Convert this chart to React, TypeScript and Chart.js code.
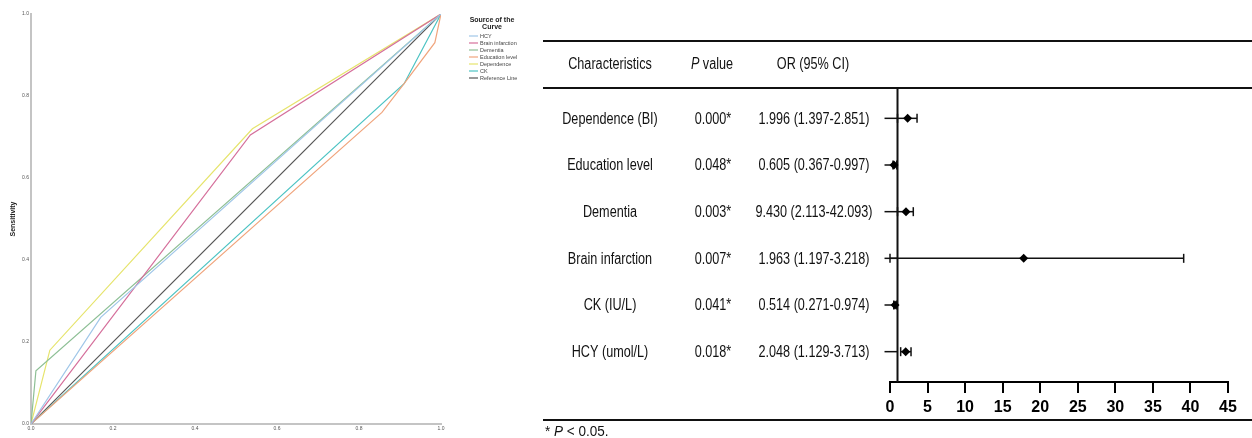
import React, { useEffect, useRef } from 'react';
import { Chart, registerables } from 'chart.js';

Chart.register(...registerables);

// ---------- ROC panel data ----------
const rocSeries = ['HCY', 'Brain infarction', 'Dementia', 'Education level', 'Dependence', 'CK', 'Reference Line'];
const rocColors = ['#9fc6e8', '#d56f9b', '#8dbf95', '#f0a47c', '#e6e46c', '#4cc3c3', '#555555'];
const hcyFpr = [0, 0.17, 1];
const hcyTpr = [0, 0.26, 1];
const brainFpr = [0, 0.535, 1];
const brainTpr = [0, 0.705, 1];
const dementiaFpr = [0, 0.012, 1];
const dementiaTpr = [0, 0.13, 1];
const educationFpr = [0, 0.856, 0.91, 0.985, 1];
const educationTpr = [0, 0.76, 0.83, 0.93, 1];
const dependenceFpr = [0, 0.046, 0.54, 1];
const dependenceTpr = [0, 0.18, 0.72, 1];
const ckFpr = [0, 0.91, 1];
const ckTpr = [0, 0.83, 1];
const refFpr = [0, 1];
const refTpr = [0, 1];
const rocTicks = [0, 0.2, 0.4, 0.6, 0.8, 1.0];
const rocLegendTitle = ['Source of the', 'Curve'];

// ---------- Forest panel data ----------
const characteristics = ['Dependence (BI)', 'Education level', 'Dementia', 'Brain infarction', 'CK (IU/L)', 'HCY (umol/L)'];
const pValues = ['0.000*', '0.048*', '0.003*', '0.007*', '0.041*', '0.018*'];
const orCi = ['1.996 (1.397-2.851)', '0.605 (0.367-0.997)', '9.430 (2.113-42.093)', '1.963 (1.197-3.218)', '0.514 (0.271-0.974)', '2.048 (1.129-3.713)'];
const plotOR = [2.35, 0.53, 2.13, 17.8, 0.67, 2.09];
const plotLow = [1.0, 0.4, 1.0, 0.0, 0.5, 1.42];
const plotHigh = [3.6, 0.9, 3.1, 39.1, 0.9, 2.8];
const forestTicks = [0, 5, 10, 15, 20, 25, 30, 35, 40, 45];
const axisCross = 1;
const headers = ['Characteristics', 'P value', 'OR (95% CI)'];
const footnote = '* P < 0.05.';

type Run = { text: string; italic?: boolean };

function drawRuns(ctx: CanvasRenderingContext2D, runs: Run[], x: number, y: number, align: 'left' | 'center', size: number, sx: number) {
  const fontFor = (r: Run) => `${r.italic ? 'italic ' : ''}${size}px Arial, "Liberation Sans", sans-serif`;
  let total = 0;
  const widths = runs.map((r) => {
    ctx.font = fontFor(r);
    const w = ctx.measureText(r.text).width * sx;
    total += w;
    return w;
  });
  let cx = align === 'center' ? x - total / 2 : x;
  ctx.textBaseline = 'middle';
  ctx.textAlign = 'left';
  runs.forEach((r, i) => {
    ctx.font = fontFor(r);
    ctx.save();
    ctx.translate(cx, y);
    ctx.scale(sx, 1);
    ctx.fillText(r.text, 0, 0);
    ctx.restore();
    cx += widths[i];
  });
}

function splitP(t: string): Run[] {
  const idx = t.indexOf('P');
  if (idx < 0) return [{ text: t }];
  return [{ text: t.slice(0, idx) }, { text: 'P', italic: true }, { text: t.slice(idx + 1) }].filter((r) => r.text.length > 0);
}

const rocLegendPlugin = {
  id: 'rocLegend',
  afterDraw(chart: any) {
    const { ctx } = chart;
    ctx.save();
    ctx.fillStyle = '#222';
    ctx.textAlign = 'center';
    ctx.textBaseline = 'middle';
    ctx.font = 'bold 7px Arial, "Liberation Sans", sans-serif';
    rocLegendTitle.forEach((t, i) => ctx.fillText(t, 492, 20 + i * 7.5));
    ctx.font = '5.5px Arial, "Liberation Sans", sans-serif';
    ctx.textAlign = 'left';
    chart.data.datasets.forEach((ds: any, i: number) => {
      const yy = 36 + i * 7;
      ctx.strokeStyle = ds.borderColor;
      ctx.lineWidth = 1.2;
      ctx.beginPath();
      ctx.moveTo(469, yy);
      ctx.lineTo(478, yy);
      ctx.stroke();
      ctx.fillStyle = '#444';
      ctx.fillText(ds.label, 480, yy);
    });
    ctx.restore();
  },
};

const forestPlugin = {
  id: 'forestTable',
  beforeDatasetsDraw(chart: any) {
    const { ctx, chartArea, scales } = chart;
    const x = scales.x;
    const y = scales.y;
    const line = (x1: number, y1: number, x2: number, y2: number) => {
      ctx.beginPath();
      ctx.moveTo(x1, y1);
      ctx.lineTo(x2, y2);
      ctx.stroke();
    };
    ctx.save();
    ctx.strokeStyle = '#111';
    ctx.lineWidth = 2;
    [41, chartArea.top, 420].forEach((yy) => line(3, yy, chart.width, yy));
    const ax = x.getPixelForValue(axisCross);
    line(ax, chartArea.top, ax, chartArea.bottom);
    ctx.lineWidth = 1.5;
    plotOR.forEach((_, i) => {
      const yy = y.getPixelForValue(i);
      line(ax - 13, yy, ax, yy);
      const lo = x.getPixelForValue(plotLow[i]);
      const hi = x.getPixelForValue(plotHigh[i]);
      line(lo, yy, hi, yy);
      line(lo, yy - 4.5, lo, yy + 4.5);
      line(hi, yy - 4.5, hi, yy + 4.5);
    });
    // table text
    ctx.fillStyle = '#111';
    const colX = [70, 172, 273];
    const sx = 0.79;
    headers.forEach((h, c) => drawRuns(ctx, c === 1 ? splitP(h) : [{ text: h }], colX[c], 65, 'center', 16, sx));
    characteristics.forEach((name, i) => {
      const yy = y.getPixelForValue(i) + 1;
      drawRuns(ctx, [{ text: name }], colX[0], yy, 'center', 16, sx);
      drawRuns(ctx, [{ text: pValues[i] }], colX[1] + 1, yy, 'center', 16, sx);
      drawRuns(ctx, [{ text: orCi[i] }], colX[2] + 1, yy, 'center', 16, sx);
    });
    drawRuns(ctx, splitP(footnote), 5, 432, 'left', 15, 0.9);
    ctx.restore();
  },
};

export default function App() {
  const leftRef = useRef<HTMLCanvasElement>(null);
  const rightRef = useRef<HTMLCanvasElement>(null);

  useEffect(() => {
    const rocPairs = [
      [hcyFpr, hcyTpr],
      [brainFpr, brainTpr],
      [dementiaFpr, dementiaTpr],
      [educationFpr, educationTpr],
      [dependenceFpr, dependenceTpr],
      [ckFpr, ckTpr],
      [refFpr, refTpr],
    ];
    const tickFont = { size: 5, family: 'Arial, "Liberation Sans", sans-serif' };
    const left = new Chart(leftRef.current as HTMLCanvasElement, {
      type: 'scatter',
      data: {
        datasets: rocSeries.map((name, k) => ({
          label: name,
          data: rocPairs[k][0].map((fx, j) => ({ x: fx, y: rocPairs[k][1][j] })),
          showLine: true,
          borderColor: rocColors[k],
          backgroundColor: rocColors[k],
          borderWidth: 1.2,
          pointRadius: 0,
          pointHoverRadius: 0,
          tension: 0,
        })),
      },
      options: {
        responsive: false,
        animation: false,
        events: [],
        layout: { padding: { top: 14, right: 99, left: 0, bottom: 0 } },
        plugins: { legend: { display: false }, tooltip: { enabled: false } },
        scales: {
          x: {
            type: 'linear',
            min: 0,
            max: 1,
            afterBuildTicks: (s: any) => {
              s.ticks = rocTicks.map((v) => ({ value: v }));
            },
            afterFit: (s: any) => {
              s.height = 28;
            },
            grid: { display: false, drawTicks: false },
            border: { display: true, color: '#c4c4c4', width: 2 },
            ticks: { font: tickFont, color: '#555', padding: 2, maxRotation: 0, autoSkip: false, callback: (v: any) => Number(v).toFixed(1) },
            title: { display: true, text: '1 - Specificity', color: '#222', font: { size: 7, weight: 'bold', family: 'Arial, "Liberation Sans", sans-serif' }, padding: { top: 0, bottom: 7 } },
          },
          y: {
            type: 'linear',
            min: 0,
            max: 1,
            afterBuildTicks: (s: any) => {
              s.ticks = rocTicks.map((v) => ({ value: v }));
            },
            afterFit: (s: any) => {
              s.width = 31;
            },
            grid: { display: false, drawTicks: false },
            border: { display: true, color: '#c4c4c4', width: 2 },
            ticks: { font: tickFont, color: '#555', padding: 2, autoSkip: false, callback: (v: any) => Number(v).toFixed(1) },
            title: { display: true, text: 'Sensitivity', color: '#222', font: { size: 7, weight: 'bold', family: 'Arial, "Liberation Sans", sans-serif' }, padding: { top: 9, bottom: 0 } },
          },
        },
      } as any,
      plugins: [rocLegendPlugin],
    });

    const right = new Chart(rightRef.current as HTMLCanvasElement, {
      type: 'scatter',
      data: {
        datasets: [
          {
            label: 'OR',
            data: plotOR.map((v, i) => ({ x: v, y: i })),
            pointStyle: 'rectRot',
            pointRadius: 4.5,
            pointHoverRadius: 4.5,
            backgroundColor: '#000',
            borderColor: '#000',
            borderWidth: 0,
            clip: false,
          },
        ],
      },
      options: {
        responsive: false,
        animation: false,
        events: [],
        layout: { padding: { left: 350, right: 24, top: 88, bottom: 0 } },
        plugins: { legend: { display: false }, tooltip: { enabled: false } },
        scales: {
          x: {
            type: 'linear',
            min: 0,
            max: 45,
            afterBuildTicks: (s: any) => {
              s.ticks = forestTicks.map((v) => ({ value: v }));
            },
            afterFit: (s: any) => {
              s.height = 56;
            },
            grid: { display: true, drawOnChartArea: false, drawTicks: true, tickLength: 11, color: '#000', lineWidth: 2 },
            border: { display: true, color: '#000', width: 2 },
            ticks: { font: { size: 16, weight: 'bold', family: 'Arial, "Liberation Sans", sans-serif' }, color: '#000', padding: 5, maxRotation: 0, autoSkip: false },
          },
          y: { type: 'linear', reverse: true, min: -0.65, max: 5.65, display: false },
        },
      } as any,
      plugins: [forestPlugin],
    });

    return () => {
      left.destroy();
      right.destroy();
    };
  }, []);

  return (
    <div style={{ position: 'absolute', left: 0, top: 0, width: 1252, height: 438, overflow: 'hidden', background: '#fff' }}>
      <canvas ref={leftRef} width={540} height={452} style={{ position: 'absolute', left: 0, top: 0, width: 540, height: 452 }} />
      <canvas ref={rightRef} width={712} height={438} style={{ position: 'absolute', left: 540, top: 0, width: 712, height: 438 }} />
    </div>
  );
}
